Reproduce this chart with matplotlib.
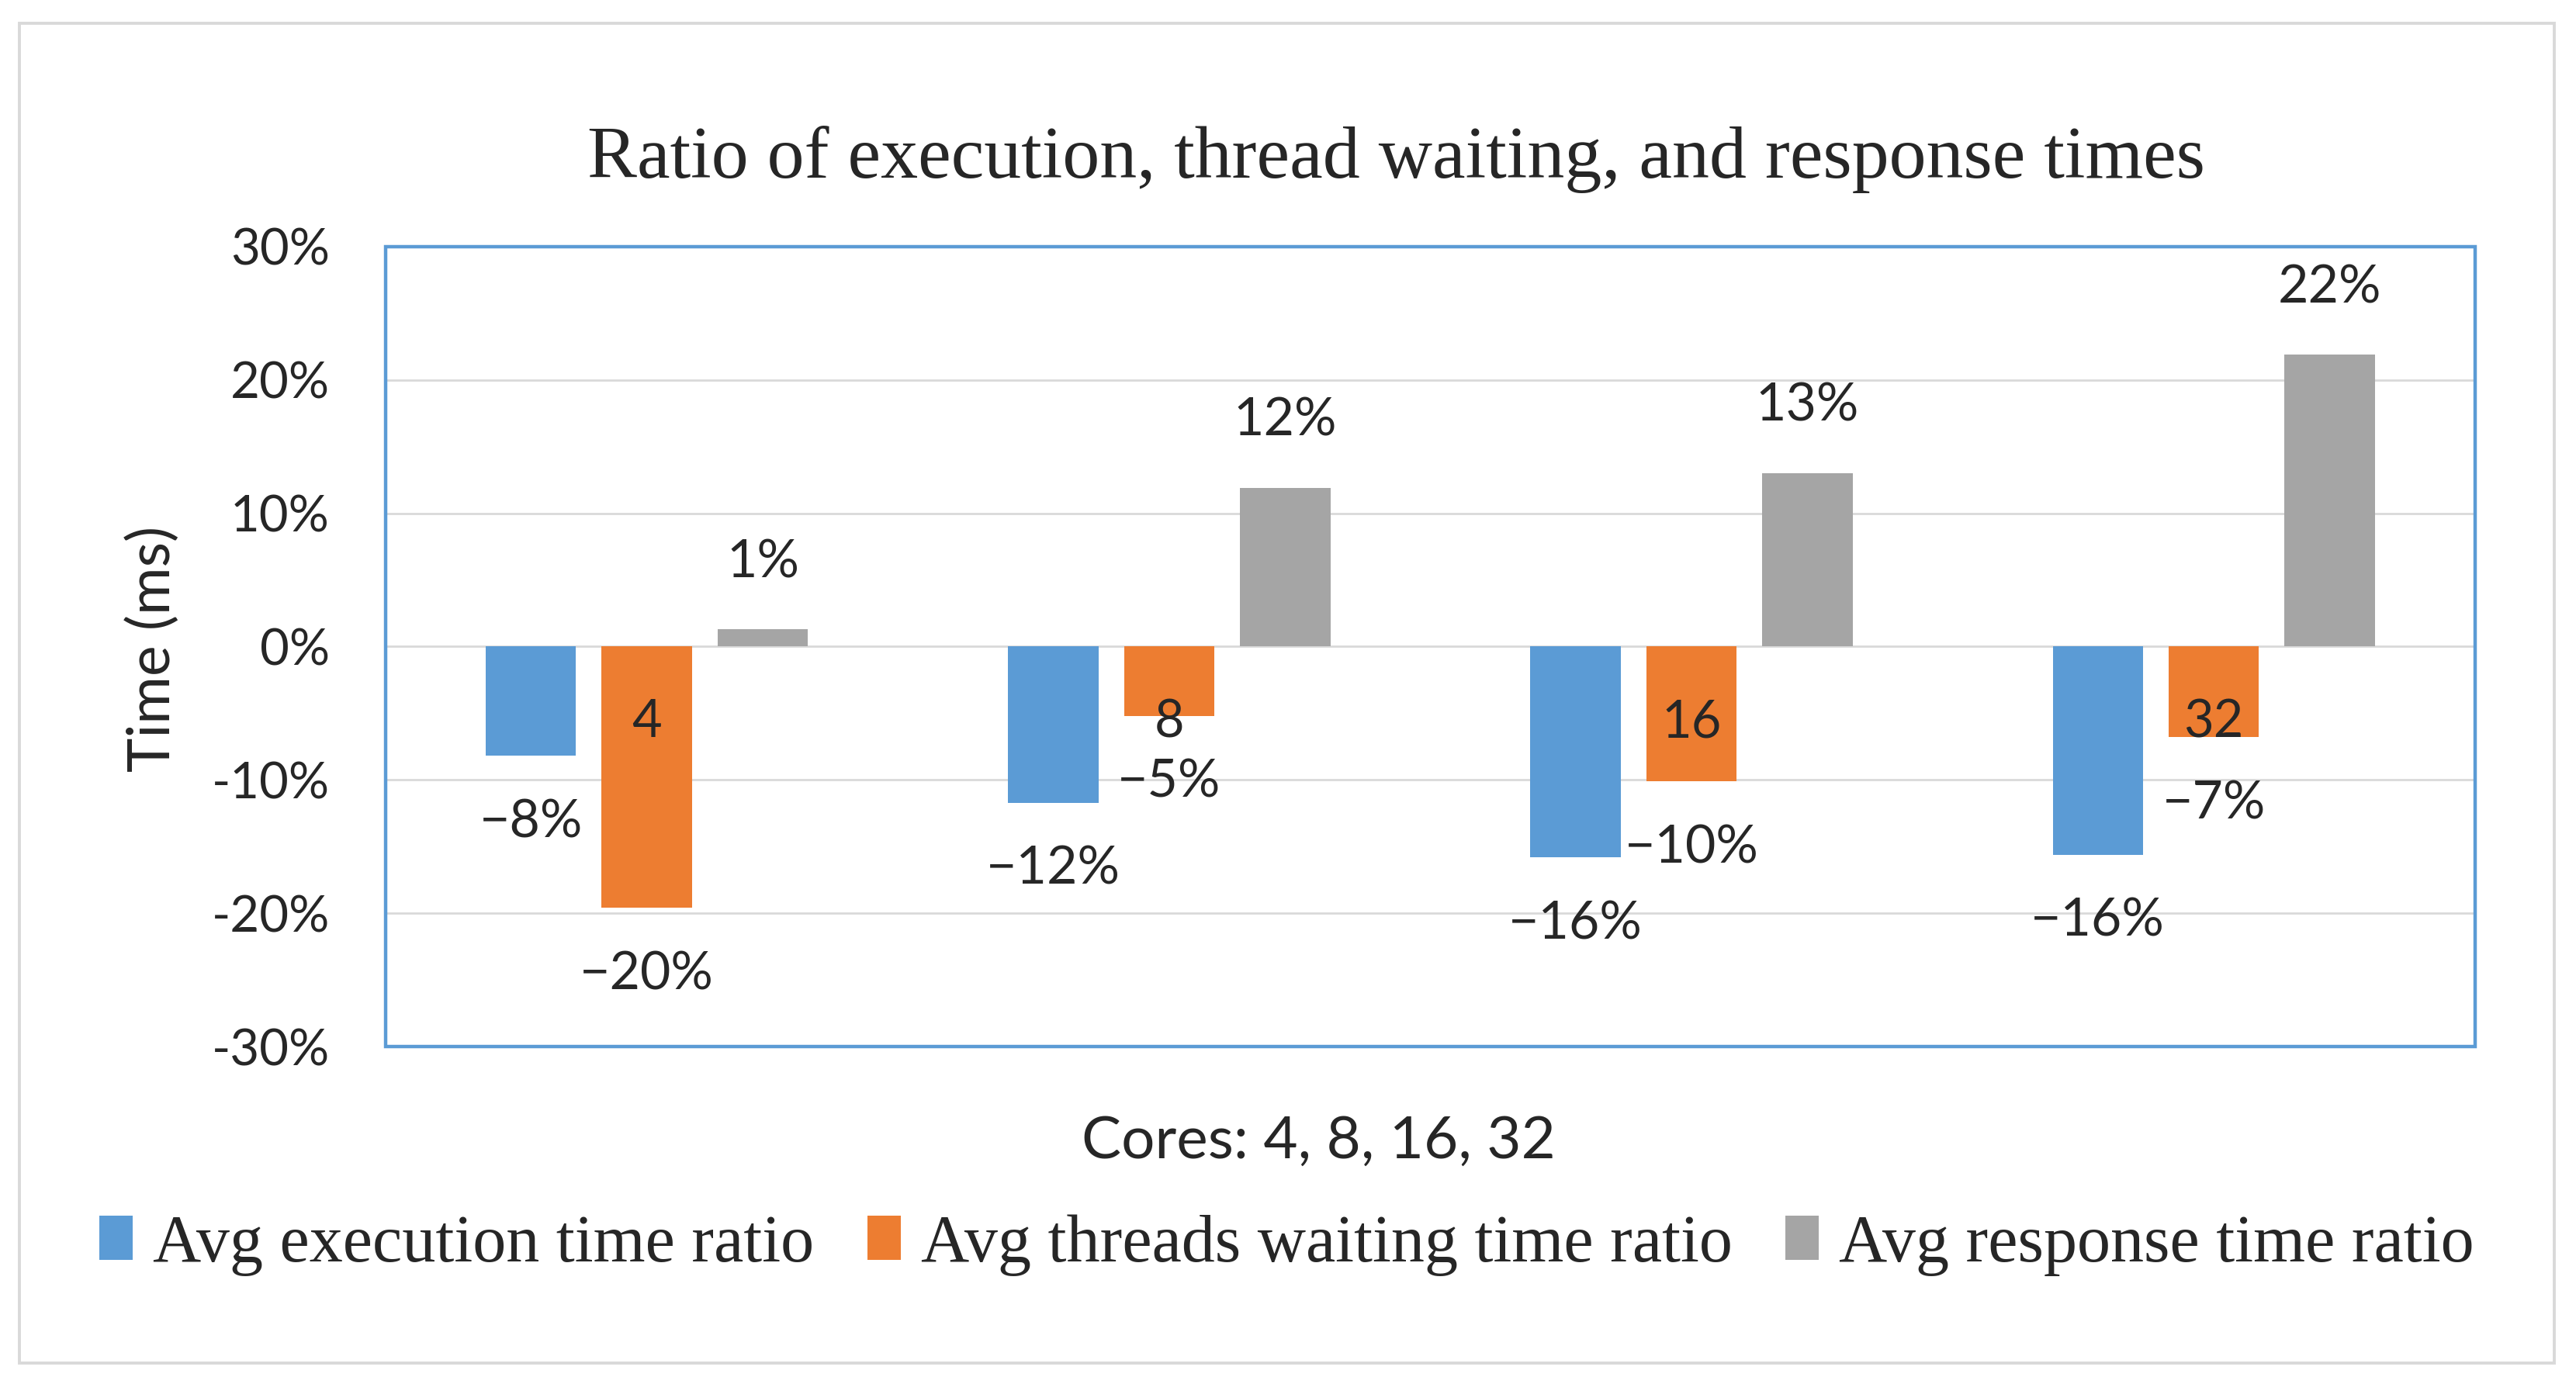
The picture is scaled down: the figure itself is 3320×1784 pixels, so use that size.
import numpy as np
import matplotlib.pyplot as plt
from matplotlib.patches import Rectangle

# =========================
# data
# =========================
cores = ["4", "8", "16", "32"]
series_names = [
    "Avg execution time ratio",
    "Avg threads waiting time ratio",
    "Avg response time ratio",
]
exec_ratio = [-8.2, -11.7, -15.8, -15.6]
wait_ratio = [-19.6, -5.2, -10.1, -6.8]
resp_ratio = [1.3, 11.9, 13.0, 21.9]
colors = ["#5B9BD5", "#ED7D31", "#A5A5A5"]

SANS = "Lato"
SERIF = "Liberation Serif"

fig = plt.figure(figsize=(16.6, 8.92), dpi=200)
ax = fig.add_axes([0.1497, 0.2438, 0.8111, 0.578])

x = np.arange(len(cores))
width = 0.173
step = 0.222

all_series = [exec_ratio, wait_ratio, resp_ratio]
bars = []
for i, vals in enumerate(all_series):
    b = ax.bar(x + (i - 1) * step, vals, width, color=colors[i],
               label=series_names[i], zorder=3)
    bars.append(b)
    # data labels beyond the bar end
    for xi, v in zip(x + (i - 1) * step, vals):
        txt = f"{round(v)}%".replace("-", "\u2212")
        off = 31 if v >= 0 else -31
        ax.annotate(txt, (xi, v), xytext=(0, off), textcoords="offset points",
                    ha="center", va="center", fontsize=24.5, family=SANS,
                    color="#262626", zorder=4)

ax.set_ylim(-30, 30)
ax.set_xlim(-0.5, len(cores) - 0.5)
ax.set_yticks(np.arange(-30, 31, 10))
ax.set_yticklabels([f"{t}%" for t in range(-30, 31, 10)], family=SANS,
                   fontsize=23.5, color="#262626")
ax.yaxis.grid(True, color="#D9D9D9", linewidth=1.0, zorder=0)
ax.tick_params(axis="y", length=0, pad=26)

# category labels sit on the zero line (like Excel), on top of the bars
for s in ax.spines.values():
    s.set_visible(False)
ax.spines["bottom"].set_position(("data", 0))
ax.set_xticks(x)
ax.set_xticklabels(cores, family=SANS, fontsize=24, color="#262626")
ax.tick_params(axis="x", length=0, pad=24)
ax.xaxis.set_zorder(4)

# blue plot-area border
ax.add_patch(Rectangle((0, 0), 1, 1, transform=ax.transAxes, fill=False,
                       edgecolor="#5B9BD5", linewidth=1.6, clip_on=False,
                       zorder=5))

# outer chart border
fig.patches.append(Rectangle((25 / 3320, 1 - 1757 / 1784),
                             (3292 - 25) / 3320, (1757 - 30) / 1784,
                             transform=fig.transFigure, fill=False,
                             edgecolor="#D9D9D9", linewidth=1.4))

fig.text(0.542, 0.885, "Ratio of execution, thread waiting, and response times",
         ha="center", va="center", family=SERIF, fontsize=34.5, color="#262626")
fig.text(0.0593, 0.531, "Time (ms)", rotation=90, ha="center", va="center",
         family=SANS, fontsize=27, color="#262626")
fig.text(0.512, 0.1755, "Cores: 4, 8, 16, 32", ha="center", va="center",
         family=SANS, fontsize=27.5, color="#262626")

leg = fig.legend(handles=bars, labels=series_names, loc="center",
                 bbox_to_anchor=(0.4995, 0.1003), ncol=3, frameon=False,
                 prop={"family": SERIF, "size": 31}, handlelength=0.5,
                 handleheight=0.65, handletextpad=0.3, columnspacing=0.8)
for t in leg.get_texts():
    t.set_color("#262626")

plt.savefig("out.png", dpi=200)
plt.close()
